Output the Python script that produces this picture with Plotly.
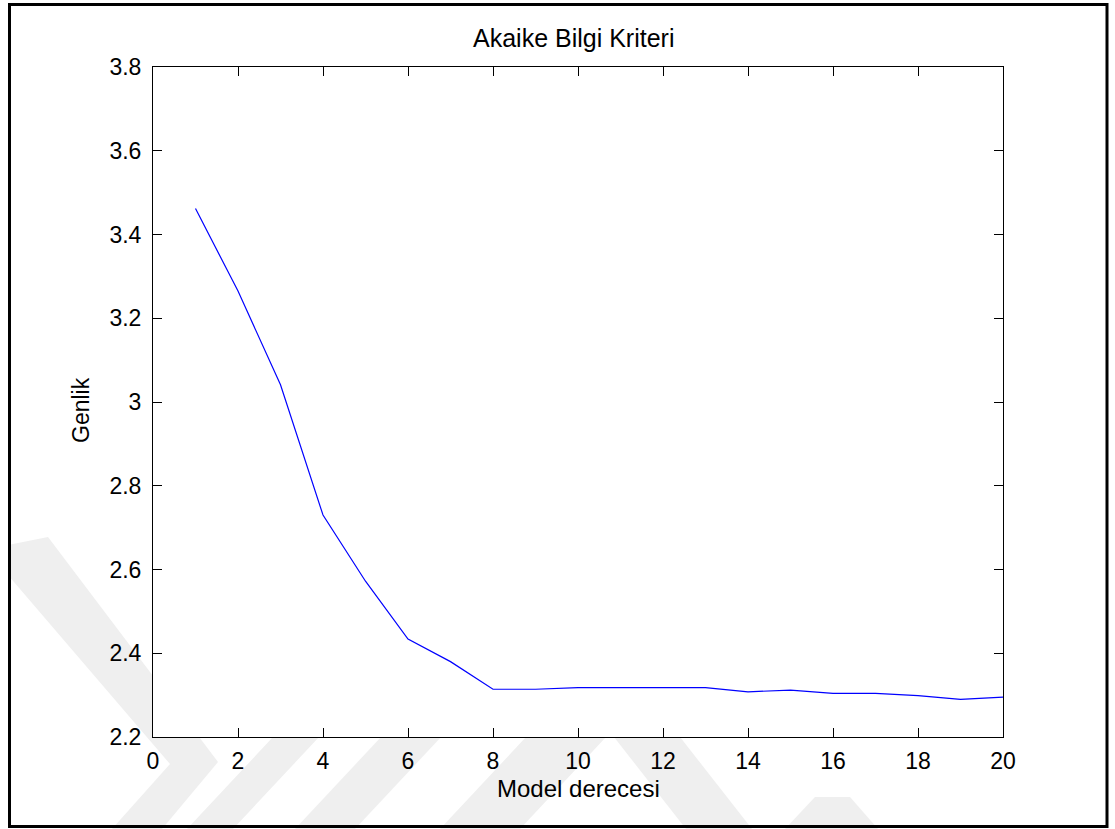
import plotly.graph_objects as go

# Akaike information criterion versus model order
model_order = list(range(1, 21))
aic_values = [3.462, 3.265, 3.041, 2.730, 2.572, 2.434, 2.380, 2.314, 2.314, 2.318,
              2.318, 2.318, 2.318, 2.308, 2.312, 2.304, 2.304, 2.299, 2.290, 2.295]

x_tick_values = list(range(0, 21, 2))
y_tick_values = [2.2, 2.4, 2.6, 2.8, 3.0, 3.2, 3.4, 3.6, 3.8]

title_text = "Akaike Bilgi Kriteri"
x_label = "Model derecesi"
y_label = "Genlik"

W, H = 1115, 829
PL, PR, PT, PB = 153, 1003, 67, 737  # plot area in pixels
FONT = "Liberation Sans, Arial, sans-serif"


def px(x, y):
    """Pixel position -> paper coordinates."""
    return (x - PL) / (PR - PL), (PB - y) / (PB - PT)


def poly_path(points):
    parts = []
    for i, (x, y) in enumerate(points):
        xp, yp = px(x, y)
        parts.append(("M" if i == 0 else "L") + f"{xp:.5f},{yp:.5f}")
    return " ".join(parts) + " Z"


fig = go.Figure()
fig.add_trace(go.Scatter(
    x=model_order, y=aic_values, mode="lines",
    line=dict(color="#0000ff", width=1.2),
    showlegend=False, hoverinfo="x+y",
))

# faint background emblem stripes
emblem = [
    [(8, 545), (48, 537), (218, 762), (162, 829), (112, 829), (170, 764), (8, 575)],
    [(187, 829), (233, 829), (363, 690), (317, 690)],
    [(295, 829), (355, 829), (485, 690), (425, 690)],
    [(440, 829), (520, 829), (650, 690), (570, 690)],
    [(614, 737), (680, 737), (752, 829), (686, 829)],
    [(785, 829), (878, 829), (850, 797), (815, 797)],
]
shapes = []
for pts in emblem:
    shapes.append(dict(type="path", path=poly_path(pts), xref="paper", yref="paper",
                       fillcolor="#efefef", line=dict(width=0), layer="below"))
# opaque axes background
shapes.append(dict(type="rect", xref="paper", yref="paper", x0=0, x1=1, y0=0, y1=1,
                   fillcolor="white", line=dict(width=0), layer="below"))
# outer frame
x0, y1 = px(9.5, 4.5)
x1, y0 = px(1107, 826.5)
shapes.append(dict(type="rect", xref="paper", yref="paper", x0=x0, x1=x1, y0=y0, y1=y1,
                   line=dict(color="black", width=3), fillcolor="rgba(0,0,0,0)", layer="above"))

axis_common = dict(
    showline=True, linecolor="black", linewidth=1, mirror="ticks",
    ticks="inside", ticklen=9, tickwidth=1, tickcolor="black",
    showgrid=False, zeroline=False,
    tickfont=dict(family=FONT, size=23, color="black"),
)

fig.update_layout(
    width=W, height=H,
    margin=dict(l=PL, r=W - PR, t=PT, b=H - PB),
    paper_bgcolor="white", plot_bgcolor="white",
    xaxis=dict(range=[0, 20], tickmode="array", tickvals=x_tick_values,
               ticklabelstandoff=3, **axis_common),
    yaxis=dict(range=[2.2, 3.8], tickmode="array", tickvals=y_tick_values,
               ticklabelstandoff=6, **axis_common),
    shapes=shapes,
    annotations=[
        dict(text=title_text, xref="paper", yref="paper", x=px(573, 0)[0], y=px(0, 38)[1],
             showarrow=False, xanchor="center", yanchor="middle",
             font=dict(family=FONT, size=25, color="black")),
        dict(text=x_label, xref="paper", yref="paper", x=px(578, 0)[0], y=px(0, 788)[1],
             showarrow=False, xanchor="center", yanchor="middle",
             font=dict(family=FONT, size=24, color="black")),
        dict(text=y_label, xref="paper", yref="paper", x=px(81, 0)[0], y=px(0, 410)[1],
             showarrow=False, xanchor="center", yanchor="middle", textangle=-90,
             font=dict(family=FONT, size=23, color="black")),
    ],
)

fig.write_html("out.html")
